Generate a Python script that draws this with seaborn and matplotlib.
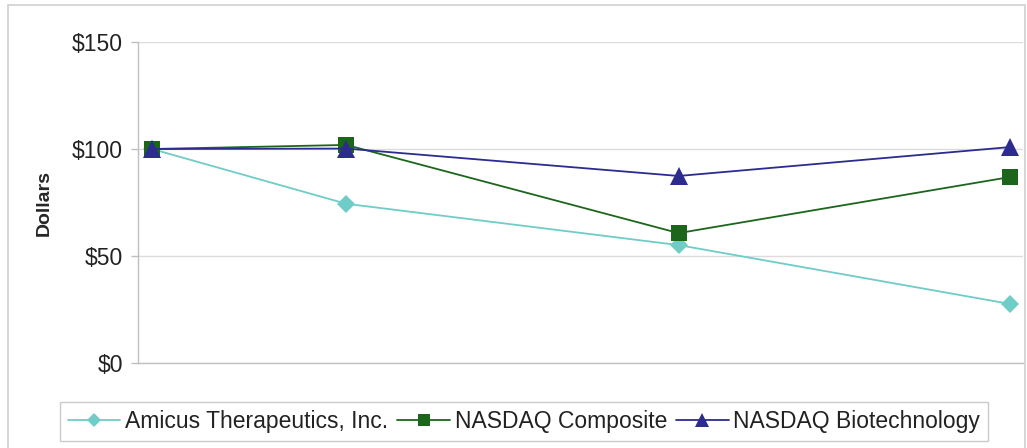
import matplotlib
matplotlib.use("Agg")
import matplotlib.pyplot as plt
import matplotlib.dates as mdates
from matplotlib.patches import Rectangle
import seaborn as sns
import pandas as pd
import numpy as np

dates = ["2007-05-31", "2007-12-31", "2008-12-31", "2009-12-31"]
amicus = [100, 74.4, 55.1, 27.6]
composite = [100, 101.9, 60.7, 86.9]
biotech = [100, 100.2, 87.4, 100.9]
series_names = ["Amicus Therapeutics, Inc.", "NASDAQ Composite", "NASDAQ Biotechnology"]
y_ticks = [0, 50, 100, 150]
y_labels = ["$0", "$50", "$100", "$150"]

colors = {"Amicus Therapeutics, Inc.": "#6FCCC6",
          "NASDAQ Composite": "#1C661C",
          "NASDAQ Biotechnology": "#2B2B90"}
markers = {"Amicus Therapeutics, Inc.": "D",
           "NASDAQ Composite": "s",
           "NASDAQ Biotechnology": "^"}
msizes = {"Amicus Therapeutics, Inc.": 9,
          "NASDAQ Composite": 12,
          "NASDAQ Biotechnology": 13}

x = pd.to_datetime(dates)
df = pd.concat([
    pd.DataFrame({"date": x, "value": v, "series": n})
    for n, v in zip(series_names, [amicus, composite, biotech])
])

sns.set_style("white")
plt.rcParams["font.family"] = ["Liberation Sans", "DejaVu Sans"]

fig = plt.figure(figsize=(10.27, 4.48), dpi=100)
ax = fig.add_axes([138/1027, 1-363/448, (1023-138)/1027, (363-42)/448])

for n in series_names:
    sub = df[df["series"] == n]
    sns.lineplot(data=sub, x="date", y="value", ax=ax, color=colors[n],
                 marker=markers[n], markersize=msizes[n], markeredgewidth=0,
                 linewidth=1.3, label=n)

xn = mdates.date2num(x)
ax.set_xlim(xn[0] - 15.4, xn[-1] + 14.3)
ax.set_ylim(0, 150)
ax.set_yticks(y_ticks)
ax.set_yticklabels(y_labels, fontsize=16.5, color="#222222")
ax.set_xticks([])
ax.set_xlabel("")
ax.set_ylabel("Dollars", fontsize=14, fontweight="bold", labelpad=14)
ax.yaxis.grid(True, color="#DCDCDC", linewidth=1)
ax.tick_params(axis="y", length=5, color="#BFBFBF", width=1, pad=6, left=True)
for s in ["top", "right"]:
    ax.spines[s].set_visible(False)
for s in ["left", "bottom"]:
    ax.spines[s].set_color("#C0C0C0")
    ax.spines[s].set_linewidth(1)

if ax.get_legend():
    ax.get_legend().remove()
handles, labels = ax.get_legend_handles_labels()
leg = fig.legend(handles, labels, loc="center", bbox_to_anchor=(524/1027, 1-421.5/448),
                 ncol=3, fontsize=16.5, frameon=True, fancybox=False,
                 handlelength=2.3, handletextpad=0.2, columnspacing=0.4,
                 borderpad=0.35, markerscale=0.75)
leg.get_frame().set_edgecolor("#BFBFBF")
leg.get_frame().set_linewidth(1)
for t in leg.get_texts():
    t.set_color("#222222")

fig.patches.append(Rectangle((8/1027, -0.01), (1025-8)/1027, 1-5/448 + 0.01,
                             transform=fig.transFigure, fill=False,
                             edgecolor="#D0D0D0", linewidth=1.2, clip_on=False))

fig.savefig("out.png", dpi=100)
